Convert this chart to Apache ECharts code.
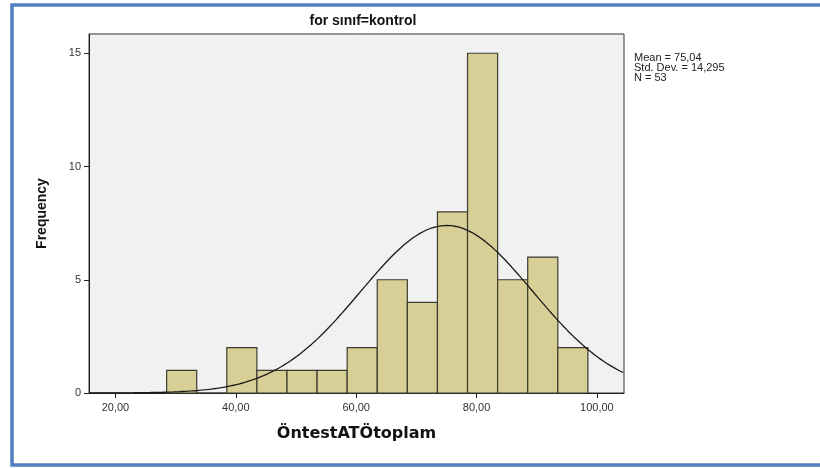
<!DOCTYPE html>
<html>
<head>
<meta charset="utf-8">
<script src="https://cdn.jsdelivr.net/npm/echarts@6/dist/echarts.min.js"></script>
<style>html,body{margin:0;padding:0;background:#fff}#c{width:820px;height:468px}</style>
</head>
<body>
<div id="c"></div>
<script>
// Histogram data
var binStart = 28.5;
var binWidth = 5;
var counts = [1, 0, 2, 1, 1, 1, 2, 5, 4, 8, 15, 5, 6, 2];
var xTicks = [20, 40, 60, 80, 100];
var yTicks = [0, 5, 10, 15];
var statMean = 75.04;
var statSD = 14.295;
var statN = 53;
var titleText = 'for sınıf=kontrol';
var xName = 'ÖntestATÖtoplam';
var yName = 'Frequency';
var statLines = ['Mean = 75,04', 'Std. Dev. = 14,295', 'N = 53'];

var xMin = 15.6, xMax = 104.5;

var bins = counts.map(function (c, i) {
  return [binStart + i * binWidth, binStart + (i + 1) * binWidth, c];
});

// Fitted normal curve from the stated mean / std. dev. / N
var curve = [];
for (var x = xMin; x <= xMax + 1e-9; x += 0.25) {
  var z = (x - statMean) / statSD;
  curve.push([x, statN * binWidth / (statSD * Math.sqrt(2 * Math.PI)) * Math.exp(-z * z / 2)]);
}

var chart = echarts.init(document.getElementById('c'), null, {renderer: 'canvas'});
chart.setOption({
  animation: false,
  backgroundColor: '#ffffff',
  title: {
    text: titleText, left: 358, top: 9, textAlign: 'center',
    textStyle: {fontFamily: 'Liberation Sans, Arial', fontWeight: 'bold', fontSize: 14, color: '#111'}
  },
  grid: {
    left: 89, top: 34, right: 196, bottom: 75,
    show: true, backgroundColor: '#f1f1f1', borderColor: '#333', borderWidth: 1
  },
  xAxis: {
    type: 'value', min: xMin, max: xMax,
    name: xName, nameLocation: 'middle', nameGap: 33,
    nameTextStyle: {fontFamily: 'DejaVu Sans', fontWeight: 'bold', fontSize: 16, color: '#111'},
    axisLine: {show: true, onZero: false, lineStyle: {color: '#222', width: 1}},
    axisTick: {show: true, customValues: xTicks, length: 5, lineStyle: {color: '#222'}},
    axisLabel: {
      customValues: xTicks, margin: 9,
      fontFamily: 'Liberation Sans, Arial', fontSize: 11, color: '#333',
      formatter: function (v) { return v.toFixed(2).replace('.', ','); }
    },
    splitLine: {show: false}
  },
  yAxis: {
    type: 'value', min: 0, max: 15.85,
    name: yName, nameLocation: 'middle', nameGap: 40, nameRotate: 90,
    nameTextStyle: {fontFamily: 'Liberation Sans Narrow, Liberation Sans', fontWeight: 'bold', fontSize: 14, color: '#111'},
    axisLine: {show: true, onZero: false, lineStyle: {color: '#222', width: 1}},
    axisTick: {show: true, customValues: yTicks, length: 5, lineStyle: {color: '#222'}},
    axisLabel: {
      customValues: yTicks, margin: 8,
      fontFamily: 'Liberation Sans, Arial', fontSize: 11, color: '#333'
    },
    splitLine: {show: false}
  },
  series: [
    {
      type: 'custom',
      data: bins,
      encode: {x: [0, 1], y: 2},
      renderItem: function (params, api) {
        var p0 = api.coord([api.value(0), 0]);
        var p1 = api.coord([api.value(1), api.value(2)]);
        return {
          type: 'rect',
          shape: {x: p0[0], y: p1[1], width: p1[0] - p0[0], height: p0[1] - p1[1]},
          style: {fill: '#d8cf96', stroke: '#3c3c30', lineWidth: 1.2}
        };
      },
      z: 2
    },
    {
      type: 'line', data: curve, showSymbol: false, smooth: false,
      lineStyle: {color: '#1a1a1a', width: 1.3}, z: 3
    }
  ],
  graphic: [
    {
      type: 'text', left: 634, top: 52,
      style: {text: statLines.join('\n'), fontFamily: 'Liberation Sans, Arial', fontSize: 11, lineHeight: 10, fill: '#222'}
    },
    {
      type: 'rect', shape: {x: 12, y: 5, width: 815, height: 460},
      style: {fill: 'none', stroke: '#4f7fc0', lineWidth: 3.5}, z: 10
    }
  ]
});
</script>
</body>
</html>
